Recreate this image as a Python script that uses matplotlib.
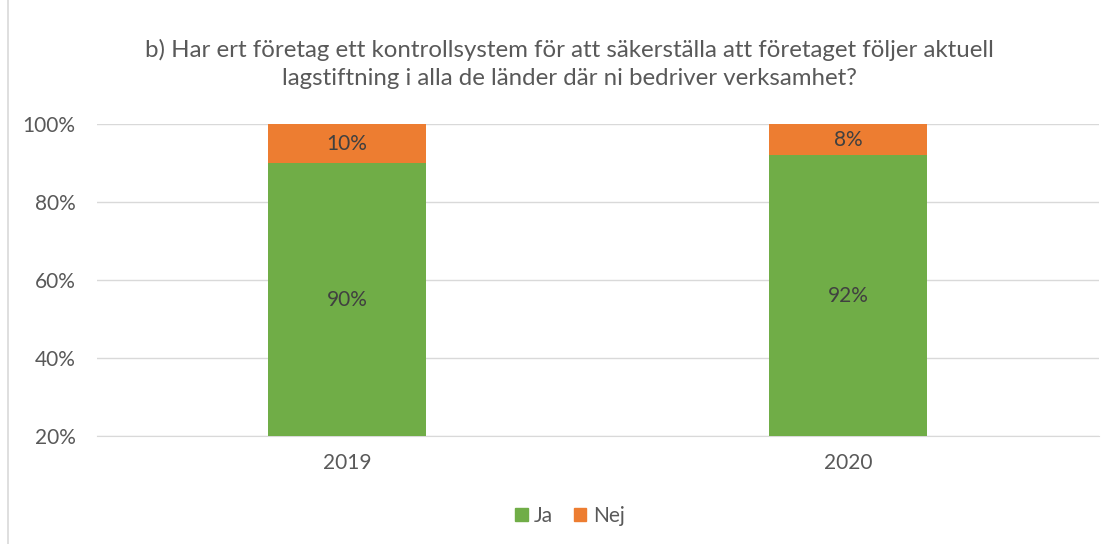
import matplotlib
matplotlib.use("Agg")
import matplotlib.pyplot as plt
from matplotlib.lines import Line2D

years = ["2019", "2020"]
ja = [90, 92]
nej = [10, 8]
yticks = [20, 40, 60, 80, 100]
title = "b) Har ert företag ett kontrollsystem för att säkerställa att företaget följer aktuell\nlagstiftning i alla de länder där ni bedriver verksamhet?"

green = "#70AD47"
orange = "#ED7D31"
txt = "#595959"

plt.rcParams['font.family'] = ['Lato', 'DejaVu Sans']

fig = plt.figure(figsize=(11.13, 5.44), dpi=100)
ax = fig.add_axes([96.5/1113, 1-436/544, 1002/1113, 312/544])

x = list(range(len(years)))
base = 20
w = 0.315
ax.bar(x, [j - base for j in ja], bottom=base, width=w, color=green, label="Ja", zorder=3)
ax.bar(x, nej, bottom=ja, width=w, color=orange, label="Nej", zorder=3)

for i in x:
    ax.text(i, (base + ja[i]) / 2, f"{ja[i]}%", ha="center", va="center", fontsize=15, color="#404040", zorder=4)
    ax.text(i, ja[i] + nej[i] / 2, f"{nej[i]}%", ha="center", va="center", fontsize=15, color="#404040", zorder=4)

ax.set_xlim(-0.5, 1.5)
ax.set_ylim(20, 100)
ax.set_yticks(yticks)
ax.set_yticklabels([f"{t}%" for t in yticks])
ax.set_xticks(x)
ax.set_xticklabels(years)
ax.grid(axis="y", color="#D9D9D9", linewidth=1, zorder=0)
for s in ["top", "right", "left"]:
    ax.spines[s].set_visible(False)
ax.spines["bottom"].set_color("#D9D9D9")
ax.tick_params(axis="both", length=0, labelsize=15, colors=txt)
ax.tick_params(axis="y", pad=15)
ax.tick_params(axis="x", pad=12)

fig.text(0.512, 1-64/544, title, ha="center", va="center", fontsize=17.3, color=txt, linespacing=1.45)

handles = [plt.Rectangle((0, 0), 1, 1, color=green), plt.Rectangle((0, 0), 1, 1, color=orange)]
fig.legend(handles, ["Ja", "Nej"], loc="center", bbox_to_anchor=(0.512, 1-516/544), ncol=2, frameon=False,
           fontsize=15, labelcolor=txt, handlelength=0.6, handleheight=0.6, handletextpad=0.3, columnspacing=1.0)

fig.add_artist(Line2D([8/1113, 8/1113], [0, 1], transform=fig.transFigure, color="#D9D9D9", linewidth=1.2))

fig.savefig("out.png", dpi=100)
